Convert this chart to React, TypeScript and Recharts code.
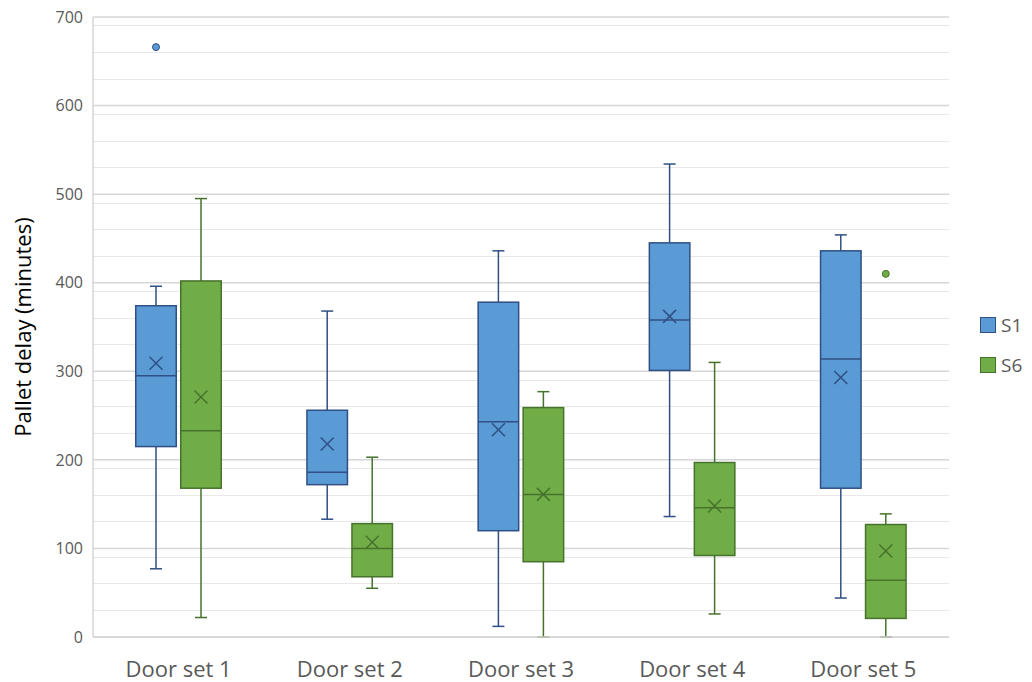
import React from 'react';
import { ComposedChart, Bar, XAxis, YAxis, CartesianGrid } from 'recharts';

const categories = ['Door set 1', 'Door set 2', 'Door set 3', 'Door set 4', 'Door set 5'];

const s1Min = [77, 133, 12, 136, 44];
const s1Q1 = [215, 172, 120, 301, 168];
const s1Median = [295, 186, 243, 358, 314];
const s1Q3 = [374, 256, 378, 445, 436];
const s1Max = [396, 368, 436, 534, 454];
const s1Mean = [309, 218, 234, 362, 293];
const s1Outliers: number[][] = [[666], [], [], [], []];

const s6Min = [22, 55, 0, 26, 0];
const s6Q1 = [168, 68, 85, 92, 21];
const s6Median = [233, 100, 161, 146, 64];
const s6Q3 = [402, 128, 259, 197, 127];
const s6Max = [495, 203, 277, 310, 139];
const s6Mean = [271, 107, 161, 148, 97];
const s6Outliers: number[][] = [[], [], [], [], [410]];

const yTicks = [0, 100, 200, 300, 400, 500, 600, 700];
const minorTicks: number[] = [];
for (let v = 10; v < 700; v += 10) {
  if (v % 100 !== 0) minorTicks.push(v);
}

const data = categories.map((name, i) => ({
  name,
  s1Base: s1Min[i],
  s1Range: s1Max[i] - s1Min[i],
  s1: { min: s1Min[i], q1: s1Q1[i], median: s1Median[i], q3: s1Q3[i], max: s1Max[i], mean: s1Mean[i], outliers: s1Outliers[i] },
  s6Base: s6Min[i],
  s6Range: s6Max[i] - s6Min[i],
  s6: { min: s6Min[i], q1: s6Q1[i], median: s6Median[i], q3: s6Q3[i], max: s6Max[i], mean: s6Mean[i], outliers: s6Outliers[i] },
}));

const S1 = { fill: '#5B9BD5', stroke: '#2F4F85' };
const S6 = { fill: '#70AD47', stroke: '#46722C' };

const makeBoxShape = (key: 's1' | 's6', col: { fill: string; stroke: string }) => (props: any) => {
  const { x, y, width, height, payload } = props;
  const st = payload[key];
  const span = st.max - st.min;
  if (!span) return <g />;
  const ppu = height / span;
  const yOf = (v: number) => y + height - (v - st.min) * ppu;
  const cx = x + width / 2;
  const cap = 6;
  const m = 6.5;
  const yMean = yOf(st.mean);
  return (
    <g>
      <line x1={cx} x2={cx} y1={yOf(st.max)} y2={yOf(st.q3)} stroke={col.stroke} strokeWidth={1.5} />
      <line x1={cx} x2={cx} y1={yOf(st.q1)} y2={yOf(st.min)} stroke={col.stroke} strokeWidth={1.5} />
      <line x1={cx - cap} x2={cx + cap} y1={yOf(st.max)} y2={yOf(st.max)} stroke={col.stroke} strokeWidth={1.5} />
      <line x1={cx - cap} x2={cx + cap} y1={yOf(st.min)} y2={yOf(st.min)} stroke={col.stroke} strokeWidth={1.5} />
      <rect x={x + 0.75} y={yOf(st.q3)} width={width - 1.5} height={yOf(st.q1) - yOf(st.q3)} fill={col.fill} stroke={col.stroke} strokeWidth={1.5} />
      <line x1={x + 0.75} x2={x + width - 0.75} y1={yOf(st.median)} y2={yOf(st.median)} stroke={col.stroke} strokeWidth={1.5} />
      <line x1={cx - m} x2={cx + m} y1={yMean - m} y2={yMean + m} stroke={col.stroke} strokeWidth={1.5} />
      <line x1={cx - m} x2={cx + m} y1={yMean + m} y2={yMean - m} stroke={col.stroke} strokeWidth={1.5} />
      {st.outliers.map((o: number, k: number) => (
        <circle key={k} cx={cx} cy={yOf(o)} r={3.5} fill={col.fill} stroke={col.stroke} strokeWidth={1} />
      ))}
    </g>
  );
};

const FONT = '"Open Sans", "Noto Sans", sans-serif';

const YLabel = (props: any) => {
  const vb = props.viewBox || {};
  const cy = (vb.y ?? 0) + (vb.height ?? 0) / 2;
  const x = 14;
  return (
    <text x={x} y={cy} transform={`rotate(-90, ${x}, ${cy})`} textAnchor="middle" dominantBaseline="central" fontSize={22} fill="#000" fontFamily={FONT}>
      Pallet delay (minutes)
    </text>
  );
};

export default function App() {
  return (
    <div style={{ position: 'relative', width: 1016, height: 674, fontFamily: FONT }}>
      <style>{'.recharts-surface { overflow: visible; }'}</style>
      <ComposedChart width={1016} height={674} data={data} margin={{ top: 9, right: 75, bottom: 0, left: 0 }} barSize={42} barGap={3}>
        <CartesianGrid vertical={false} horizontalValues={minorTicks} stroke="#e8e8e8" strokeWidth={1} shapeRendering="crispEdges" />
        <CartesianGrid vertical={false} stroke="#d6d6d6" strokeWidth={1.5} />
        <XAxis dataKey="name" height={45} tickLine={false} tickSize={0} tickMargin={24} axisLine={{ stroke: '#d6d6d6', strokeWidth: 1.5 }} tick={{ fontSize: 22, fill: '#595959', fontFamily: FONT }} />
        <YAxis type="number" domain={[0, 700]} ticks={yTicks} width={85} tickLine={false} tickSize={0} tickMargin={10} axisLine={{ stroke: '#d6d6d6', strokeWidth: 1.5 }} tick={{ fontSize: 16, fill: '#595959', fontFamily: FONT }} label={<YLabel />} />
        <Bar dataKey="s1Base" stackId="s1" fill="transparent" isAnimationActive={false} />
        <Bar dataKey="s1Range" stackId="s1" shape={makeBoxShape('s1', S1)} isAnimationActive={false} />
        <Bar dataKey="s6Base" stackId="s6" fill="transparent" isAnimationActive={false} />
        <Bar dataKey="s6Range" stackId="s6" shape={makeBoxShape('s6', S6)} isAnimationActive={false} />
      </ComposedChart>
      <div style={{ position: 'absolute', left: 972, top: 305, width: 44, fontSize: 19, color: '#595959', lineHeight: '24px', whiteSpace: 'nowrap' }}>
        {[{ name: 'S1', c: S1 }, { name: 'S6', c: S6 }].map((s, i) => (
          <div key={s.name} style={{ display: 'flex', alignItems: 'center', height: 24, marginBottom: i === 0 ? 16 : 0 }}>
            <span style={{ display: 'inline-block', flex: '0 0 auto', width: 14, height: 14, background: s.c.fill, border: `1.5px solid ${s.c.stroke}`, marginRight: 5 }} />
            <span style={{ flex: '0 0 auto' }}>{s.name}</span>
          </div>
        ))}
      </div>
    </div>
  );
}
